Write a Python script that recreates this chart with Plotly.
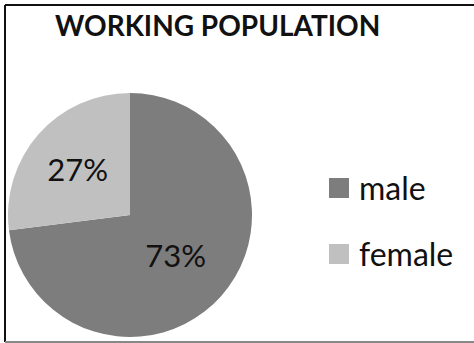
import plotly.graph_objects as go

W, H = 474, 343

labels = ["male", "female"]
values = [73, 27]
colors = ["#7d7d7d", "#c0c0c0"]
title_text = "WORKING POPULATION"

FONT = "Lato, 'Open Sans', sans-serif"

def px_x(x):
    return x / W

def px_y(y):
    return 1 - y / H

fig = go.Figure()
fig.add_trace(go.Pie(
    labels=labels,
    values=values,
    marker=dict(colors=colors, line=dict(width=0)),
    sort=False,
    direction="clockwise",
    rotation=0,
    textinfo="percent",
    textposition="inside",
    insidetextorientation="horizontal",
    insidetextfont=dict(family=FONT, size=31, color="#111111"),
    showlegend=False,
    hoverinfo="label+percent",
    domain=dict(x=[px_x(8), px_x(252)], y=[px_y(337), px_y(93)]),
))

shapes = []
annotations = []
# manual legend (large square keys like the reference)
legend_rows = [188, 254]
for lab, col, yc in zip(labels, colors, legend_rows):
    shapes.append(dict(type="rect", xref="paper", yref="paper",
                       x0=px_x(329), x1=px_x(349), y0=px_y(yc + 10), y1=px_y(yc - 10),
                       fillcolor=col, line=dict(width=0)))
    annotations.append(dict(text=lab, xref="paper", yref="paper",
                            x=px_x(357), y=px_y(yc - 1), xanchor="left", yanchor="middle",
                            showarrow=False, font=dict(family=FONT, size=32, color="#111111")))

# frame lines
shapes.append(dict(type="line", xref="paper", yref="paper", x0=px_x(5), x1=px_x(5),
                   y0=px_y(5), y1=px_y(342), line=dict(color="#111111", width=2)))
shapes.append(dict(type="line", xref="paper", yref="paper", x0=px_x(5), x1=1,
                   y0=px_y(5), y1=px_y(5), line=dict(color="#111111", width=2)))
shapes.append(dict(type="line", xref="paper", yref="paper", x0=px_x(5), x1=1,
                   y0=px_y(342), y1=px_y(342), line=dict(color="#888888", width=2)))

fig.update_layout(
    width=W, height=H,
    margin=dict(l=0, r=0, t=0, b=0),
    paper_bgcolor="white",
    plot_bgcolor="white",
    title=dict(text="<b>" + title_text + "</b>", x=px_x(55), xanchor="left",
               y=px_y(26), yanchor="middle", xref="paper", yref="paper",
               font=dict(family=FONT, size=28, color="#111111")),
    shapes=shapes,
    annotations=annotations,
)

fig.write_html("out.html")
